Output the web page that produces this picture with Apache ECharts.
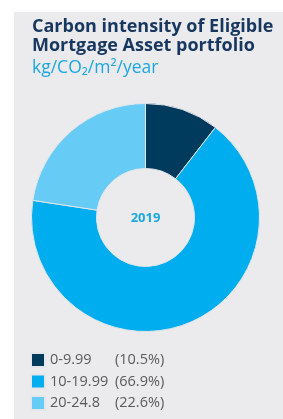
<!DOCTYPE html>
<html><head><meta charset="utf-8">
<script src="https://cdn.jsdelivr.net/npm/echarts@6/dist/echarts.min.js"></script>
<style>html,body{margin:0;padding:0;background:#fff;}#c{width:283px;height:419px;}</style>
</head><body><div id="c"></div>
<script>
const categories = ['0-9.99', '10-19.99', '20-24.8'];
const values = [10.5, 66.9, 22.6];
const colors = ['#003A5C', '#00AEEF', '#66CCF5'];
const yearLabel = '2019';

const chart = echarts.init(document.getElementById('c'));
chart.setOption({
  animation: false,
  backgroundColor: '#ffffff',
  graphic: [{type: 'rect', shape: {x: 14, y: 12, width: 269, height: 407}, style: {fill: '#EBEBEE'}, z: -10, silent: true}],
  title: [
    {
      text: 'Carbon intensity of Eligible\nMortgage Asset portfolio',
      left: 32, top: 17, padding: 0,
      textStyle: {fontFamily: 'Open Sans', fontWeight: 'bold', fontSize: 18, lineHeight: 19.5, color: '#17375E'}
    },
    {
      text: 'kg/CO₂/m²/year',
      left: 32, top: 59, padding: 0,
      textStyle: {fontFamily: 'Open Sans', fontWeight: 'normal', fontSize: 17.5, lineHeight: 18, color: '#1BA8E0'}
    },
    {
      text: yearLabel,
      left: 145.5, top: 218, textAlign: 'center', textVerticalAlign: 'middle', padding: 0,
      textStyle: {fontFamily: 'Open Sans', fontWeight: 'bold', fontSize: 13, color: '#1BA8E0'}
    }
  ],
  legend: {
    orient: 'vertical', left: 30, top: 352, padding: 0,
    itemWidth: 14, itemHeight: 14, itemGap: 5.5,
    icon: 'rect',
    data: categories,
    formatter: function (name) {
      const i = categories.indexOf(name);
      return '{a|' + name + '}{b|(' + values[i] + '%)}';
    },
    textStyle: {
      fontFamily: 'Open Sans', fontSize: 14.5, color: '#5A5A5A', lineHeight: 16,
      rich: {
        a: {width: 65, fontFamily: 'Open Sans', fontSize: 14.5, lineHeight: 16, color: '#5A5A5A'},
        b: {fontFamily: 'Open Sans', fontSize: 14.5, lineHeight: 16, color: '#5A5A5A'}
      }
    }
  },
  series: [{
    type: 'pie',
    center: [145.5, 217.5],
    radius: [49, 114],
    startAngle: 90,
    clockwise: true,
    label: {show: false},
    labelLine: {show: false},
    itemStyle: {borderColor: '#E4E6EA', borderWidth: 1},
    data: categories.map((c, i) => ({name: c, value: values[i], itemStyle: {color: colors[i]}}))
  }]
});
</script></body></html>
